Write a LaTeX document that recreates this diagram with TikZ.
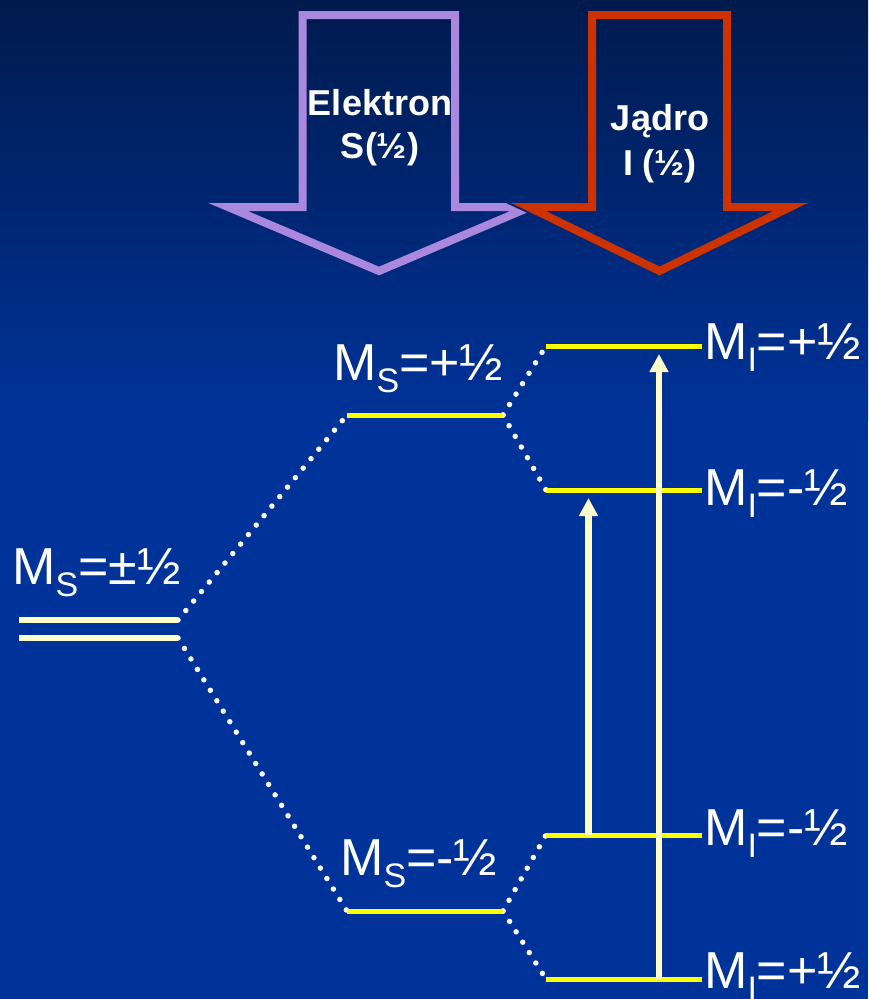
\documentclass[tikz,border=0pt]{standalone}
\usepackage{fontspec}
\setmainfont{Liberation Sans}
\usetikzlibrary{arrows.meta}
\definecolor{bgtop}{RGB}{0,26,77}
\definecolor{bgblue}{RGB}{0,51,153}
\definecolor{purp}{RGB}{170,136,221}
\definecolor{redarr}{RGB}{204,51,0}
\definecolor{paley}{RGB}{255,255,204}
\definecolor{lvly}{RGB}{255,255,0}
\newcommand\mlab[2]{M\raisebox{-12pt}{\fontsize{34}{34}\selectfont #1}#2}
\newcommand\bgpaint{%
  \shade[top color=bgtop, bottom color=bgblue] (0,0) rectangle (868,420);
  \fill[bgblue] (0,419) rectangle (868,999);}
\tikzset{
  lvl/.style={draw=lvly, line width=5pt},
  dbl/.style={draw=paley, line width=6pt},
  dots/.style={draw=white, line width=5.5pt, line cap=round, dash pattern=on 0pt off 12.3pt},
  trans/.style={draw=paley, line width=6.5pt, -{Triangle[width=18pt,length=18pt]}},
  lab/.style={text=white, font=\fontsize{52}{52}\selectfont, inner sep=0pt, anchor=base west},
  arrlab/.style={text=white, font=\bfseries\fontsize{36}{36}\selectfont, inner sep=0pt, anchor=base},
  bigarrow/.style={line width=8pt, line join=miter, miter limit=20}
}
\begin{document}
\begin{tikzpicture}[x=1pt,y=-1pt]
\useasboundingbox (0,0) rectangle (868,999);
\bgpaint
% big arrows
\draw[bigarrow, draw=purp] (302.5,15) -- (455,15) -- (455,207) -- (530,207) -- (379,271) -- (228,207) -- (302.5,207) -- cycle;
\begin{scope}
  \clip (588,11) -- (731,11) -- (731,203) -- (811,203) -- (659.5,275) -- (506,203) -- (588,203) -- cycle;
  \bgpaint
\end{scope}
\draw[bigarrow, draw=redarr] (592,15) -- (727,15) -- (727,207) -- (790.5,207) -- (659.5,271) -- (528.5,207) -- (592,207) -- cycle;
\node[arrlab] (el1) at (380,115) {Elektron};
\node[arrlab] (el2) at (380,158) {S(½)};
\node[arrlab] (jd1) at (660,130) {Jądro};
\node[arrlab] (jd2) at (660,175) {I (½)};
% level end points
\coordinate (a1L) at (19,620);  \coordinate (a1R) at (178,620);
\coordinate (a2L) at (19,638);  \coordinate (a2R) at (178,638);
\coordinate (spL) at (347,415); \coordinate (spR) at (503,415);
\coordinate (smL) at (347,911); \coordinate (smR) at (503,911);
\coordinate (ppL) at (546,346); \coordinate (ppR) at (702,346);
\coordinate (pmL) at (546,490); \coordinate (pmR) at (702,490);
\coordinate (mmL) at (546,835); \coordinate (mmR) at (702,835);
\coordinate (mpL) at (546,979); \coordinate (mpR) at (702,979);
% dotted correlations
\draw[dots] (a1R) -- (spL);
\draw[dots] (a2R) -- (smL);
\draw[dots] (spR) -- (ppL);
\draw[dots] (spR) -- (pmL);
\draw[dots] (smR) -- (mmL);
\draw[dots] (smR) -- (mpL);
% levels
\draw[dbl] (a1L) -- (a1R);
\draw[dbl] (a2L) -- (a2R);
\draw[lvl] (spL) -- (spR);
\draw[lvl] (smL) -- (smR);
\draw[lvl] (ppL) -- (ppR);
\draw[lvl] (pmL) -- (pmR);
\draw[lvl] (mmL) -- (mmR);
\draw[lvl] (mpL) -- (mpR);
% transitions
\coordinate (t1s) at (588.5,835); \coordinate (t1e) at (588.5,498);
\coordinate (t2s) at (659,979);   \coordinate (t2e) at (659,354);
\draw[trans] (t1s) -- (t1e);
\draw[trans] (t2s) -- (t2e);
% labels
\node[lab] (l0) at (12,584) {\mlab{S}{=±½}};
\node[lab] (l1) at (333,380) {\mlab{S}{=+½}};
\node[lab] (l2) at (340,875) {\mlab{S}{=-½}};
\node[lab] (l3) at (704,359) {\mlab{I}{=+½}};
\node[lab] (l4) at (704,505) {\mlab{I}{=-½}};
\node[lab] (l5) at (704,845) {\mlab{I}{=-½}};
\node[lab] (l6) at (704,988) {\mlab{I}{=+½}};
\end{tikzpicture}
\end{document}
